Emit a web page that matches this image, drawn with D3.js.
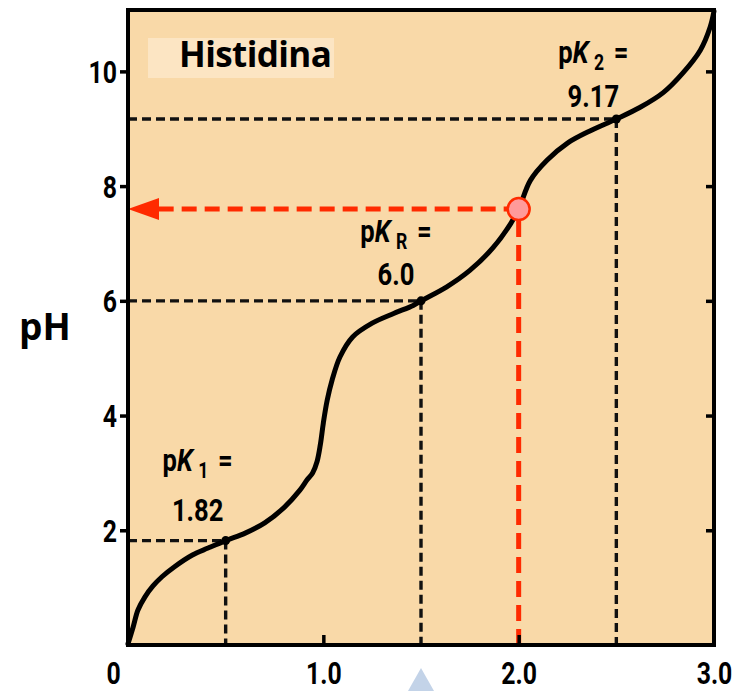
<!DOCTYPE html>
<html>
<head>
<meta charset="utf-8">
<script src="https://cdn.jsdelivr.net/npm/d3@7"></script>
<style>
    body { margin: 0; background: #fff; }
    svg { display: block; }
</style>
</head>
<body>
<div id="chart"></div>
<script>
// titration curve of histidine
const equivalents = [0.0, 0.026, 0.051, 0.087, 0.128, 0.174, 0.24, 0.33, 0.41, 0.5, 0.6, 0.7, 0.8, 0.88, 0.917,
    0.945, 0.968, 0.985, 1.0, 1.02, 1.045, 1.085, 1.15, 1.25, 1.36, 1.46, 1.5, 1.63, 1.75, 1.87, 1.96,
    2.0, 2.06, 2.145, 2.25, 2.37, 2.5, 2.62, 2.74, 2.84, 2.93, 2.98, 3.0];
const phValues = [0.02, 0.31, 0.61, 0.84, 1.03, 1.19, 1.37, 1.57, 1.69, 1.82, 1.95, 2.13, 2.4, 2.7, 2.88,
    3.0, 3.2, 3.5, 3.87, 4.27, 4.62, 5.02, 5.37, 5.61, 5.78, 5.92, 6.0, 6.24, 6.53, 6.93, 7.35,
    7.6, 8.1, 8.45, 8.75, 8.97, 9.17, 9.37, 9.63, 9.97, 10.37, 10.77, 11.05];

const pkNames = ["1", "R", "2"];
const pkEquivalents = [0.5, 1.5, 2.5];
const pkValues = [1.82, 6.0, 9.17];
const pkTexts = ["1.82", "6.0", "9.17"];

const markEquivalent = 2.0;
const markPh = 7.6;

const yTicks = [2, 4, 6, 8, 10];
const xTicks = [0, 1, 2, 3];
const xTickLabels = ["0", "1.0", "2.0", "3.0"];

const title = "Histidina";
const yTitle = "pH";

// layout
const W = 737, H = 691;
const plot = {left: 128, right: 714, top: 10, bottom: 645};
const labelOffsets = [[-28, -70, -20], [-25, -59, -16], [-23, -56, -12]];
const numFont = "Roboto, 'Liberation Sans', sans-serif";
const squeeze = 0.8; // the numbers in the picture use a condensed face

const svg = d3.select("#chart").append("svg")
    .attr("width", W)
    .attr("height", H);

const x = d3.scaleLinear().domain([0, 3]).range([plot.left, plot.right]);
const y = d3.scaleLinear().domain([0, 11.07]).range([plot.bottom, plot.top]);

// background
svg.append("rect")
    .attr("x", plot.left).attr("y", plot.top)
    .attr("width", plot.right - plot.left).attr("height", plot.bottom - plot.top)
    .attr("fill", "#f9d9a8");

// title box
svg.append("rect")
    .attr("x", 148).attr("y", 38).attr("width", 186).attr("height", 40)
    .attr("fill", "#fce5c3");
svg.append("text")
    .attr("x", 179).attr("y", 67)
    .attr("font-family", "'Open Sans', Lato, sans-serif")
    .attr("font-weight", 700)
    .attr("font-size", 35)
    .attr("letter-spacing", -0.6)
    .attr("fill", "#000")
    .text(title);

// dashed guides to the pK points
pkEquivalents.forEach(function (e, i) {
    let g = svg.append("g")
        .attr("stroke", "#111")
        .attr("stroke-width", 3.4)
        .attr("stroke-dasharray", "9,5");
    g.append("line")
        .attr("x1", x(0)).attr("x2", x(e))
        .attr("y1", y(pkValues[i])).attr("y2", y(pkValues[i]));
    g.append("line")
        .attr("x1", x(e)).attr("x2", x(e))
        .attr("y1", y(pkValues[i])).attr("y2", y(0));
});

// red guides
let red = "#ff2a00";
svg.append("line")
    .attr("x1", x(markEquivalent)).attr("x2", x(markEquivalent))
    .attr("y1", y(0)).attr("y2", y(markPh))
    .attr("stroke", red).attr("stroke-width", 5)
    .attr("stroke-dasharray", "16,8");
svg.append("line")
    .attr("x1", x(markEquivalent)).attr("x2", x(0) + 28)
    .attr("y1", y(markPh)).attr("y2", y(markPh))
    .attr("stroke", red).attr("stroke-width", 5)
    .attr("stroke-dasharray", "15,8");
svg.append("path")
    .attr("d", "M" + x(0) + "," + y(markPh) + "L" + (x(0) + 31) + "," + (y(markPh) - 11)
        + "L" + (x(0) + 31) + "," + (y(markPh) + 11) + "Z")
    .attr("fill", red);

// curve
const points = equivalents.map(function (e, i) {
    return [e, phValues[i]];
});
svg.append("path")
    .datum(points)
    .attr("fill", "none")
    .attr("stroke", "#000")
    .attr("stroke-width", 5)
    .attr("stroke-linecap", "round")
    .attr("d", d3.line()
        .curve(d3.curveCatmullRom.alpha(0.5))
        .x(function (d) { return x(d[0]); })
        .y(function (d) { return y(d[1]); })
    );

// pK dots
svg.selectAll(".pk-dot")
    .data(pkEquivalents)
    .join("circle")
    .attr("class", "pk-dot")
    .attr("cx", function (d) { return x(d); })
    .attr("cy", function (d, i) { return y(pkValues[i]); })
    .attr("r", 4.5)
    .attr("fill", "#000");

// red marker
svg.append("circle")
    .attr("cx", x(markEquivalent)).attr("cy", y(markPh))
    .attr("r", 11)
    .attr("fill", "#ff9a9a")
    .attr("stroke", red)
    .attr("stroke-width", 2.5);

// pK labels
pkEquivalents.forEach(function (e, i) {
    let cx = x(e) + labelOffsets[i][0];
    let cy = y(pkValues[i]);
    let top = svg.append("g")
        .attr("transform", "translate(" + cx + "," + (cy + labelOffsets[i][1]) + ") scale(" + squeeze + ",1)");
    let t = top.append("text")
        .attr("text-anchor", "middle")
        .attr("font-family", numFont)
        .attr("font-weight", 700)
        .attr("font-size", 32);
    t.append("tspan").text("p");
    t.append("tspan").attr("font-style", "italic").text("K");
    t.append("tspan").attr("font-size", 22).attr("dx", 7).attr("dy", 7).text(pkNames[i]);
    t.append("tspan").attr("dy", -7).attr("dx", 12).text("=");
    svg.append("g")
        .attr("transform", "translate(" + cx + "," + (cy + labelOffsets[i][2]) + ") scale(" + squeeze + ",1)")
        .append("text")
        .attr("text-anchor", "middle")
        .attr("font-family", numFont)
        .attr("font-weight", 700)
        .attr("font-size", 32)
        .text(pkTexts[i]);
});

// axes
let yAxis = svg.append("g")
    .attr("transform", "translate(" + plot.left + ",0)")
    .call(d3.axisLeft(y).tickValues(yTicks).tickSize(8).tickPadding(3).tickFormat(d3.format("d")));
let yAxisRight = svg.append("g")
    .attr("transform", "translate(" + plot.right + ",0)")
    .call(d3.axisLeft(y).tickValues(yTicks).tickSize(8).tickFormat(""));
let xAxisTicks = svg.append("g")
    .attr("transform", "translate(0," + plot.bottom + ")")
    .call(d3.axisBottom(x).tickValues([1, 2]).tickSize(-10).tickFormat(""));
let xAxis = svg.append("g")
    .attr("transform", "translate(0," + plot.bottom + ")")
    .call(d3.axisBottom(x).tickValues(xTicks).tickSize(0).tickPadding(17)
        .tickFormat(function (d, i) { return xTickLabels[i]; }));

[yAxis, yAxisRight, xAxisTicks, xAxis].forEach(function (a) {
    a.select(".domain").remove();
    a.selectAll(".tick line").attr("stroke", "#000").attr("stroke-width", 3.5);
    a.selectAll("text")
        .attr("font-family", numFont)
        .attr("font-weight", 700)
        .attr("font-size", 31)
        .attr("fill", "#000")
        .attr("transform", "scale(" + squeeze + ",1)");
});
xAxis.selectAll(".tick text").attr("dx", function (d) { return d === 0 ? -15 / squeeze : 0; });
yAxis.selectAll(".tick text").attr("x", -11 / squeeze).attr("dy", "0.36em");

// frame
svg.append("rect")
    .attr("x", plot.left).attr("y", plot.top)
    .attr("width", plot.right - plot.left).attr("height", plot.bottom - plot.top)
    .attr("fill", "none")
    .attr("stroke", "#000")
    .attr("stroke-width", 4);

// y title
svg.append("text")
    .attr("x", 19).attr("y", 340)
    .attr("font-family", "'Open Sans', 'Noto Sans', sans-serif")
    .attr("font-weight", 700)
    .attr("font-size", 37)
    .text(yTitle);

// small pale pointer under the axis
svg.append("path")
    .attr("d", "M" + x(1.5) + "," + 668 + "L" + (x(1.5) + 13) + "," + H + "L" + (x(1.5) - 13) + "," + H + "Z")
    .attr("fill", "#c3d3e8");
</script>
</body>
</html>
